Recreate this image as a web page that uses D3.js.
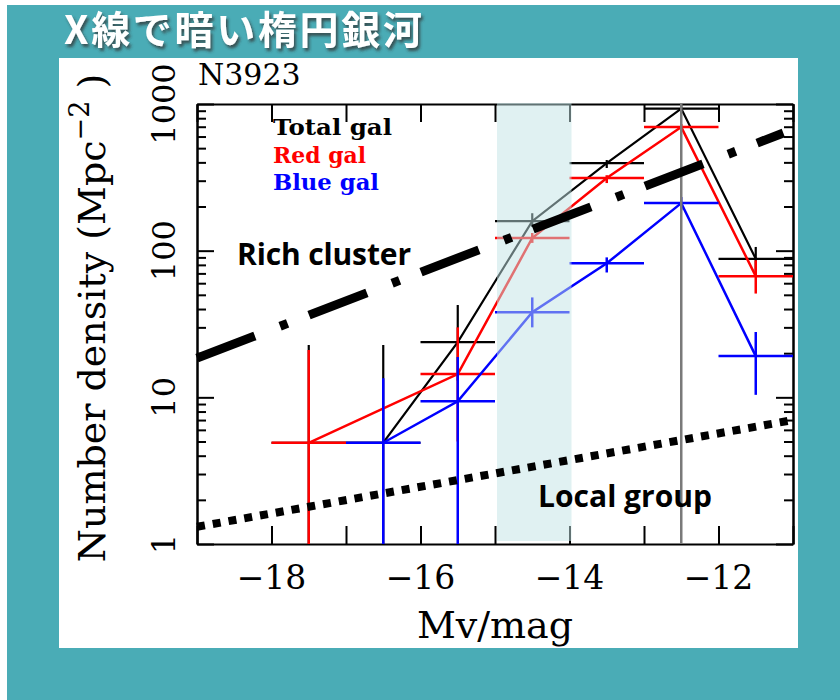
<!DOCTYPE html>
<html>
<head>
<meta charset="utf-8">
<script src="https://cdn.jsdelivr.net/npm/d3@7"></script>
<style>
	body { margin: 0; background: #fff; }
	text { font-family: "DejaVu Serif", serif; }
</style>
</head>
<body>
<div id="chart"></div>
<script>
	// bins in magnitude, +-0.5 mag wide
	var mags = [-17.5, -16.5, -15.5, -14.5, -13.5, -12.5, -11.5];
	var binHalf = 0.5;

	var totalGal = [4.9, 4.9, 23.8, 159, 395, 930, 88];
	var totalLo  = [0.1, 0.1, 13, 145, 366, 860, 72];
	var totalHi  = [22.7, 22.7, 42.6, 180, 415, 1000, 106];

	var redGal = [4.9, null, 14.4, 122, 313, 696, 67];
	var redLo  = [0.1, null, 5, 113, 289, 660, 51];
	var redHi  = [21, null, 30, 132, 327, 730, 86];

	var blueGal = [null, 4.9, 9.4, 38, 82, 211, 19.1];
	var blueLo  = [null, 0.1, 0.1, 30, 71, 190, 10.4];
	var blueHi  = [null, 13.5, 18.8, 48, 90, 232, 27.9];

	// reference relations [mag, density]
	var richCluster = [[-19, 18.5], [-11.13, 634]];
	var localGroup = [[-19, 1.31], [-11, 7.0]];

	var band = [-15, -14];
	var peakMag = -12.5;

	var xTicks = [-19, -18, -17, -16, -15, -14, -13, -12, -11];
	var xLabels = [-18, -16, -14, -12];
	var yMajor = [1, 10, 100, 1000];

	var W = 840, H = 700;
	var plot = { left: 197, right: 793, top: 104, bottom: 544 };

	var svg = d3.select("#chart").append("svg")
		.attr("width", W)
		.attr("height", H);

	var defs = svg.append("defs");
	var shadow = defs.append("filter").attr("id", "shadow")
		.attr("x", "-10%").attr("y", "-20%").attr("width", "130%").attr("height", "150%");
	shadow.append("feDropShadow")
		.attr("dx", 2).attr("dy", 3).attr("stdDeviation", 1.5)
		.attr("flood-color", "#333").attr("flood-opacity", 0.75);
	defs.append("clipPath").attr("id", "clip")
		.append("rect")
		.attr("x", plot.left).attr("y", plot.top)
		.attr("width", plot.right - plot.left).attr("height", plot.bottom - plot.top);

	// slide background
	svg.append("rect").attr("x", 7).attr("y", 5).attr("width", W - 7).attr("height", H - 5)
		.attr("fill", "#4aacb6");
	svg.append("rect").attr("x", 59).attr("y", 58).attr("width", 739).attr("height", 590)
		.attr("fill", "#fff");

	svg.append("text")
		.attr("x", 64).attr("y", 44)
		.style("font-family", "'Noto Sans CJK JP', sans-serif")
		.style("font-weight", 700)
		.style("font-size", "39px")
		.attr("textLength", 358)
		.attr("fill", "#fff")
		.attr("filter", "url(#shadow)")
		.text("X線で暗い楕円銀河");

	var x = d3.scaleLinear().domain([-19, -11]).range([plot.left, plot.right]);
	var y = d3.scaleLog().domain([1, 1000]).range([plot.bottom, plot.top]);

	var yMinor = y.ticks().filter(function(d) { return yMajor.indexOf(d) < 0; });

	// frame and ticks
	var axes = svg.append("g").attr("class", "axes");
	function styleAxis(g) {
		g.selectAll("path, line").attr("stroke", "#000").attr("stroke-width", 2);
		g.selectAll("text").remove();
	}
	axes.append("g").attr("transform", "translate(0," + plot.bottom + ")")
		.call(d3.axisBottom(x).tickValues(xTicks).tickSizeInner(-18).tickSizeOuter(0)).call(styleAxis);
	axes.append("g").attr("transform", "translate(0," + plot.top + ")")
		.call(d3.axisTop(x).tickValues(xTicks).tickSizeInner(-18).tickSizeOuter(0)).call(styleAxis);
	axes.append("g").attr("transform", "translate(" + plot.left + ",0)")
		.call(d3.axisLeft(y).tickValues(yMajor).tickSizeInner(-17).tickSizeOuter(0)).call(styleAxis);
	axes.append("g").attr("transform", "translate(" + plot.left + ",0)")
		.call(d3.axisLeft(y).tickValues(yMinor).tickSizeInner(-9).tickSizeOuter(0)).call(styleAxis);
	axes.append("g").attr("transform", "translate(" + plot.right + ",0)")
		.call(d3.axisRight(y).tickValues(yMajor).tickSizeInner(-17).tickSizeOuter(0)).call(styleAxis);
	axes.append("g").attr("transform", "translate(" + plot.right + ",0)")
		.call(d3.axisRight(y).tickValues(yMinor).tickSizeInner(-9).tickSizeOuter(0)).call(styleAxis);

	// tick labels
	svg.append("g").selectAll("text").data(xLabels).enter().append("text")
		.attr("x", function(d) { return x(d); })
		.attr("y", 589)
		.attr("text-anchor", "middle")
		.style("font-size", "33px")
		.text(function(d) { return "\u2212" + Math.abs(d); });

	svg.append("g").selectAll("text").data(yMajor).enter().append("text")
		.attr("transform", function(d) { return "translate(175," + y(d) + ") rotate(-90)"; })
		.attr("text-anchor", "middle")
		.style("font-size", "32px")
		.text(function(d) { return d; });

	svg.append("text")
		.attr("x", (plot.left + plot.right) / 2).attr("y", 638)
		.attr("text-anchor", "middle")
		.style("font-size", "38px")
		.text("Mv/mag");

	var ylab = svg.append("text")
		.attr("transform", "translate(105,318) rotate(-90)")
		.attr("text-anchor", "middle")
		.style("font-size", "38px");
	ylab.append("tspan").text("Number density (Mpc");
	ylab.append("tspan").attr("dy", -16).style("font-size", "27px").text("\u22122");
	ylab.append("tspan").attr("dy", 16).text(" )");

	svg.append("text")
		.attr("x", 198).attr("y", 85)
		.style("font-size", "30px")
		.text("N3923");

	// data
	var data = svg.append("g").attr("clip-path", "url(#clip)");

	function drawSeries(vals, lo, hi, color, width) {
		var g = data.append("g").attr("stroke", color).attr("stroke-width", width).attr("fill", "none");
		var pts = mags.map(function(m, i) { return [m, vals[i]]; })
			.filter(function(p) { return p[1] != null; });
		g.append("path")
			.attr("d", d3.line().x(function(p) { return x(p[0]); }).y(function(p) { return y(p[1]); })(pts));
		mags.forEach(function(m, i) {
			if (vals[i] == null) return;
			g.append("line")
				.attr("x1", x(m)).attr("x2", x(m))
				.attr("y1", y(hi[i])).attr("y2", y(lo[i]));
			g.append("line")
				.attr("x1", x(m - binHalf)).attr("x2", x(m + binHalf))
				.attr("y1", y(vals[i])).attr("y2", y(vals[i]));
		});
	}
	drawSeries(totalGal, totalLo, totalHi, "#000", 2.2);
	drawSeries(redGal, redLo, redHi, "#ff0000", 2.5);
	drawSeries(blueGal, blueLo, blueHi, "#0000ff", 2.5);

	// peak marker
	svg.append("line")
		.attr("x1", x(peakMag)).attr("x2", x(peakMag))
		.attr("y1", plot.top).attr("y2", plot.bottom)
		.attr("stroke", "#7a7a7a").attr("stroke-width", 2.5);

	// shaded magnitude range
	svg.append("rect")
		.attr("x", x(band[0]) + 2).attr("y", plot.top - 1)
		.attr("width", x(band[1]) - x(band[0])).attr("height", plot.bottom - plot.top - 2)
		.attr("fill", "#c1e3e5").attr("opacity", 0.5);

	var rel = d3.line().x(function(p) { return x(p[0]); }).y(function(p) { return y(p[1]); });
	svg.append("path").attr("d", rel(richCluster))
		.attr("fill", "none").attr("stroke", "#000").attr("stroke-width", 9)
		.attr("stroke-dasharray", "62,27,8,23");
	svg.append("path").attr("d", rel(localGroup))
		.attr("fill", "none").attr("stroke", "#000").attr("stroke-width", 8)
		.attr("stroke-dasharray", "8,8");

	function note(tx, ty, s) {
		svg.append("text")
			.attr("x", tx).attr("y", ty)
			.style("font-family", "'Open Sans', sans-serif")
			.style("font-weight", 700)
			.style("font-size", "30px")
			.attr("textLength", 174)
			.text(s);
	}
	note(237, 265, "Rich cluster");
	note(538, 507, "Local group");

	// legend
	var legend = [["Total gal", "#000", 119], ["Red gal", "#ff0000", 93], ["Blue gal", "#0000ff", 106]];
	svg.append("g").selectAll("text").data(legend).enter().append("text")
		.attr("x", 273)
		.attr("y", function(d, i) { return 135 + i * 27.5; })
		.style("font-weight", 700)
		.style("font-size", "22px")
		.attr("textLength", function(d) { return d[2]; })
		.attr("lengthAdjust", "spacingAndGlyphs")
		.attr("fill", function(d) { return d[1]; })
		.text(function(d) { return d[0]; });
</script>
</body>
</html>
